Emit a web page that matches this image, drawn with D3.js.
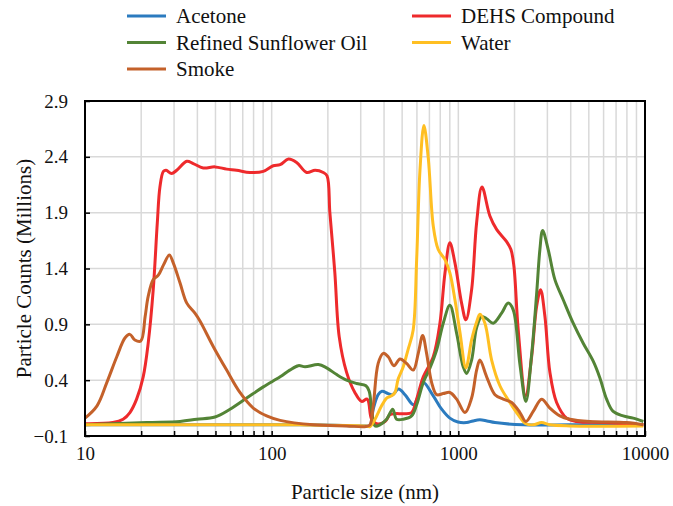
<!DOCTYPE html>
<html>
<head>
<meta charset="utf-8">
<script src="https://cdn.jsdelivr.net/npm/d3@7"></script>
</head>
<body style="margin:0;background:#fff">
<script>
// particle size (nm) and counts (millions)
const acetoneSize  = [10, 142, 320, 336, 350, 372, 390, 421, 445, 478, 518, 562, 578, 610, 649, 734, 814, 901, 995, 1108, 1197, 1305, 1423, 1571, 2226, 3960, 9800];
const acetoneCount = [0, 0, -0.01, -0.01, 0.14, 0.27, 0.30, 0.28, 0.27, 0.32, 0.27, 0.19, 0.18, 0.26, 0.38, 0.26, 0.14, 0.06, 0.025, 0.02, 0.035, 0.045, 0.035, 0.02, 0, 0, 0];

const dehsSize  = [10, 14.1, 16.0, 17.4, 18.9, 20.5, 21.8, 23.2, 24.4, 25.2, 26.3, 27.2, 29.1, 31.0, 35.1, 38.0, 43.0, 49.7, 57.4, 64.9,
                   76.5, 90.2, 102, 111, 123, 136, 154, 171, 189, 198, 205, 218, 230, 252, 279, 303, 325, 343, 365, 405,
                   430, 458, 507, 562, 598, 649, 734, 797, 848, 901, 959, 1041, 1098, 1178, 1253, 1338, 1476, 1603, 1814, 1913,
                   1985, 2093, 2293, 2470, 2626, 2758, 2910, 3094, 3361, 3802, 4301, 5970, 9800];
const dehsCount = [0.01, 0.02, 0.05, 0.11, 0.23, 0.43, 0.73, 1.21, 1.81, 2.13, 2.27, 2.28, 2.25, 2.28, 2.36, 2.34, 2.30, 2.31, 2.29, 2.28,
                   2.26, 2.27, 2.32, 2.33, 2.38, 2.35, 2.26, 2.28, 2.26, 2.23, 1.90, 1.36, 0.79, 0.47, 0.29, 0.21, 0.23, 0.05, 0.01, 0.03,
                   0.09, 0.10, 0.10, 0.11, 0.23, 0.43, 0.61, 0.91, 1.36, 1.63, 1.45, 1.09, 0.94, 1.21, 1.81, 2.13, 1.87, 1.75, 1.64, 1.57,
                   1.42, 0.85, 0.26, 0.61, 1.06, 1.21, 0.97, 0.47, 0.20, 0.06, 0.03, 0.02, 0.0];

const oilSize  = [10, 21.4, 32.3, 39.7, 49.7, 59.8, 73.5, 90.2, 111, 125, 139, 151, 178, 197, 223, 252, 285, 320, 333, 343,
                  358, 380, 413, 445, 467, 507, 562, 598, 649, 705, 765, 830, 901, 979, 1062, 1108, 1178, 1253, 1333, 1418,
                  1538, 1705, 1850, 1968, 2138, 2301, 2470, 2626, 2735, 2828, 3030, 3291, 3646, 4124, 4666, 5278, 5734, 6228, 6755, 7643,
                  8646, 9800];
const oilCount = [0, 0.02, 0.03, 0.05, 0.07, 0.14, 0.24, 0.34, 0.43, 0.49, 0.53, 0.52, 0.54, 0.51, 0.45, 0.40, 0.37, 0.35, 0.30, 0.14,
                  -0.01, 0.0, 0.05, 0.14, 0.05, 0.05, 0.08, 0.18, 0.38, 0.51, 0.67, 0.91, 1.07, 0.82, 0.52, 0.46, 0.58, 0.87, 0.97, 0.95,
                  0.91, 1.00, 1.09, 1.03, 0.54, 0.21, 0.63, 1.17, 1.57, 1.74, 1.57, 1.30, 1.12, 0.91, 0.73, 0.57, 0.42, 0.23, 0.12, 0.08,
                  0.06, 0.03];

const waterSize  = [10, 142, 320, 336, 358, 388, 413, 439, 458, 476, 507, 537, 573, 598, 623, 654, 690, 734, 780, 848,
                    901, 959, 1020, 1098, 1178, 1253, 1305, 1388, 1508, 1670, 1890, 2093, 2301, 2518, 2793, 3094, 3960, 9800];
const waterCount = [0, 0, -0.01, -0.015, 0.05, 0.17, 0.24, 0.26, 0.29, 0.41, 0.52, 0.67, 0.85, 1.48, 2.28, 2.68, 2.39, 1.78, 1.57, 1.48,
                    1.36, 1.12, 0.83, 0.51, 0.76, 0.92, 0.99, 0.91, 0.58, 0.35, 0.20, 0.09, 0.01, 0.0, 0.02, 0.0, -0.01, -0.01];

const smokeSize  = [10, 11.6, 13.1, 14.8, 16.4, 17.4, 18.5, 19.9, 21.0, 21.8, 23.2, 24.7, 26.3, 28.3, 29.7, 32.3, 35.1, 38.8, 41.3, 48.7,
                    57.4, 67.6, 79.7, 94.0, 111, 167, 252, 320, 336, 350, 372, 396, 421, 452, 487, 528, 573, 610, 644, 676,
                    719, 765, 830, 901, 979, 1085, 1178, 1253, 1305, 1418, 1571, 1740, 1930, 2138, 2301, 2518, 2793, 3094, 3501, 3960,
                    5068, 7966, 9800];
const smokeCount = [0.06, 0.17, 0.38, 0.61, 0.78, 0.81, 0.76, 0.75, 0.97, 1.15, 1.30, 1.34, 1.43, 1.52, 1.45, 1.27, 1.09, 1.00, 0.93, 0.70,
                    0.49, 0.29, 0.15, 0.08, 0.04, 0.0, -0.01, -0.015, 0.0, 0.17, 0.55, 0.64, 0.61, 0.53, 0.59, 0.55, 0.49, 0.64, 0.80, 0.64,
                    0.38, 0.27, 0.28, 0.29, 0.23, 0.11, 0.24, 0.49, 0.58, 0.43, 0.27, 0.23, 0.20, 0.11, 0.03, 0.12, 0.23, 0.15, 0.08, 0.05,
                    0.03, 0.02, 0.0];

const xTicks = [10, 100, 1000, 10000];
const yTicks = [-0.1, 0.4, 0.9, 1.4, 1.9, 2.4, 2.9];

// excel series order (draw order), legend goes row by row in two columns
const series = [
  {name: 'Acetone', color: '#2b7bbf', size: acetoneSize, count: acetoneCount},
  {name: 'DEHS Compound', color: '#ee2a2c', size: dehsSize, count: dehsCount},
  {name: 'Refined Sunflower Oil', color: '#538436', size: oilSize, count: oilCount},
  {name: 'Water', color: '#ffbf22', size: waterSize, count: waterCount},
  {name: 'Smoke', color: '#c4612a', size: smokeSize, count: smokeCount}
];

const font = "'Liberation Serif'";
const w = 673, h = 506;
const m = {top: 101, right: 28, bottom: 70, left: 85};

const svg = d3.select('body').append('svg')
  .attr('width', w)
  .attr('height', h);

const x = d3.scaleLog().domain([10, 10000]).range([m.left, w - m.right]);
const y = d3.scaleLinear().domain([-0.1, 2.9]).range([h - m.bottom, m.top]);

// minor log positions for grid
const minors = [];
for (let d = 10; d < 10000; d *= 10) {
  for (let k = 1; k < 10; k++) minors.push(d * k);
}
minors.push(10000);

// grid
svg.append('g').selectAll('line')
  .data(minors.filter(v => v > 10 && v < 10000))
  .join('line')
  .attr('x1', d => x(d)).attr('x2', d => x(d))
  .attr('y1', m.top).attr('y2', h - m.bottom)
  .attr('stroke', '#d9d9d9').attr('stroke-width', 1.5);
svg.append('g').selectAll('line')
  .data(yTicks.slice(1, -1))
  .join('line')
  .attr('x1', m.left).attr('x2', w - m.right)
  .attr('y1', d => y(d)).attr('y2', d => y(d))
  .attr('stroke', '#d9d9d9').attr('stroke-width', 1.5);

// lines
const line = d3.line()
  .x(d => x(d[0]))
  .y(d => y(d[1]))
  .curve(d3.curveCatmullRom.alpha(0.5));

series.forEach(s => {
  svg.append('path')
    .datum(s.size.map((v, i) => [v, s.count[i]]))
    .attr('fill', 'none')
    .attr('stroke', s.color)
    .attr('stroke-width', 3)
    .attr('stroke-linejoin', 'round')
    .attr('d', line);
});

// frame
svg.append('rect')
  .attr('x', m.left).attr('y', m.top)
  .attr('width', w - m.left - m.right)
  .attr('height', h - m.top - m.bottom)
  .attr('fill', 'none')
  .attr('stroke', '#000')
  .attr('stroke-width', 2);

// axes
const xAxis = svg.append('g')
  .attr('transform', 'translate(0,' + (h - m.bottom) + ')')
  .call(d3.axisBottom(x).tickValues(xTicks).tickFormat(d3.format('d')).tickSize(0).tickPadding(11));
svg.append('g')
  .attr('transform', 'translate(0,' + (h - m.bottom) + ')')
  .call(d3.axisBottom(x).tickValues(minors).tickFormat('').tickSize(-5))
  .call(g => g.select('.domain').remove())
  .selectAll('line').attr('stroke', '#000').attr('stroke-width', 1.5);
xAxis.select('.domain').remove();
xAxis.selectAll('text').style('font-family', font).style('font-size', '19px').attr('fill', '#111');

const yAxis = svg.append('g')
  .attr('transform', 'translate(' + m.left + ',0)')
  .call(d3.axisLeft(y).tickValues(yTicks).tickFormat(d3.format('.1f')).tickSize(-5).tickPadding(17));
yAxis.select('.domain').remove();
yAxis.selectAll('line').attr('stroke', '#000').attr('stroke-width', 1.5);
yAxis.selectAll('text').style('font-family', font).style('font-size', '19px').attr('fill', '#111');

// axis titles
svg.append('text')
  .attr('x', (m.left + w - m.right) / 2)
  .attr('y', 499)
  .attr('text-anchor', 'middle')
  .style('font-family', font).style('font-size', '21px')
  .attr('fill', '#111')
  .text('Particle size (nm)');
svg.append('text')
  .attr('transform', 'translate(31,' + ((m.top + h - m.bottom) / 2) + ') rotate(-90)')
  .attr('text-anchor', 'middle')
  .style('font-family', font).style('font-size', '21px')
  .attr('fill', '#111')
  .text('Particle Counts (Millions)');

// legend
const legend = svg.append('g');
series.forEach((s, i) => {
  const col = i % 2, row = Math.floor(i / 2);
  const lx = 127 + col * 285, ly = 16 + row * 26.5;
  legend.append('line')
    .attr('x1', lx).attr('x2', lx + 39)
    .attr('y1', ly).attr('y2', ly)
    .attr('stroke', s.color).attr('stroke-width', 3);
  legend.append('text')
    .attr('x', lx + 49).attr('y', ly)
    .attr('dy', '0.35em')
    .style('font-family', font).style('font-size', '21px')
    .attr('fill', '#111')
    .text(s.name);
});
</script>
</body>
</html>
